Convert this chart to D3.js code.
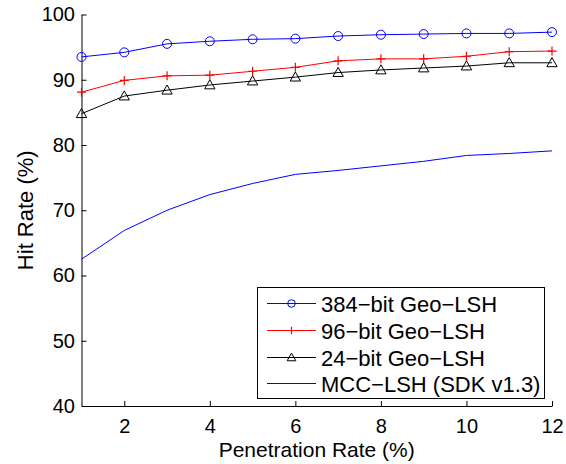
<!DOCTYPE html>
<html>
<head>
<meta charset="utf-8">
<script src="https://cdn.jsdelivr.net/npm/d3@7"></script>
<style>
  body { margin: 0; background: #fff; }
  svg text { font-family: "Liberation Sans", Arial, sans-serif; }
</style>
</head>
<body>
<div id="chart"></div>
<script>
// penetration rate (%)
var rates = [1, 2, 3, 4, 5, 6, 7, 8, 9, 10, 11, 12];
// hit rate (%) per method
var geo384 = [93.5, 94.2, 95.5, 95.9, 96.2, 96.3, 96.7, 96.9, 97.0, 97.1, 97.1, 97.3];
var geo96  = [88.1, 89.9, 90.6, 90.7, 91.3, 91.9, 92.9, 93.2, 93.2, 93.6, 94.3, 94.4];
var geo24  = [84.8, 87.5, 88.4, 89.2, 89.8, 90.4, 91.1, 91.5, 91.8, 92.1, 92.6, 92.6];
var mcc    = [62.5, 66.9, 70.0, 72.4, 74.1, 75.5, 76.1, 76.8, 77.5, 78.4, 78.7, 79.1];
var seriesNames = ["384\u2212bit Geo\u2212LSH", "96\u2212bit Geo\u2212LSH", "24\u2212bit Geo\u2212LSH", "MCC\u2212LSH (SDK v1.3)"];
var xTicks = [2, 4, 6, 8, 10, 12];
var yTicks = [40, 50, 60, 70, 80, 90, 100];

var w = 566, h = 464;
var padL = 81.5, padR = 552, padT = 14.5, padB = 406;

var svg = d3.select("#chart").append("svg")
  .attr("width", w)
  .attr("height", h);

var x = d3.scaleLinear().domain([1, 12]).range([padL, padR]);
var y = d3.scaleLinear().domain([40, 100]).range([padB, padT]);

// axes, ticks pointing inward
var xAxis = svg.append("g")
  .attr("transform", "translate(0," + padB + ")")
  .call(d3.axisBottom(x).tickValues(xTicks).tickSizeInner(-5).tickSizeOuter(0).tickPadding(13));
var yAxis = svg.append("g")
  .attr("transform", "translate(" + padL + ",0)")
  .call(d3.axisLeft(y).tickValues(yTicks).tickSizeInner(-5).tickSizeOuter(0).tickPadding(6.5));

[xAxis, yAxis].forEach(function(g) {
  g.select(".domain").attr("stroke", "#000").attr("stroke-width", 1);
  g.selectAll(".tick line").attr("stroke", "#000");
  g.selectAll(".tick text").attr("font-size", "20px").attr("fill", "#000");
});

svg.append("text")
  .attr("x", (padL + padR) / 2)
  .attr("y", 457)
  .attr("text-anchor", "middle")
  .attr("font-size", "21px")
  .text("Penetration Rate (%)");

svg.append("text")
  .attr("transform", "translate(33," + ((padT + padB) / 2) + ") rotate(-90)")
  .attr("text-anchor", "middle")
  .attr("font-size", "22px")
  .text("Hit Rate (%)");

var series = [
  { name: seriesNames[0], values: geo384, color: "#0000ff", marker: "circle" },
  { name: seriesNames[1], values: geo96, color: "#ff0000", marker: "plus" },
  { name: seriesNames[2], values: geo24, color: "#000000", marker: "triangle" },
  { name: seriesNames[3], values: mcc, color: "#0000ff", marker: "none" }
];

var lineGen = d3.line()
  .x(function(d, i) { return x(rates[i]); })
  .y(function(d) { return y(d); });

function drawMarker(g, type, cx, cy, size, color) {
  if (type === "circle") {
    g.append("circle").attr("cx", cx).attr("cy", cy).attr("r", size)
      .attr("fill", "none").attr("stroke", color).attr("stroke-width", 1);
  } else if (type === "plus") {
    g.append("path")
      .attr("d", "M" + (cx - size) + "," + cy + "H" + (cx + size) + "M" + cx + "," + (cy - size) + "V" + (cy + size))
      .attr("stroke", color).attr("stroke-width", 1.2).attr("fill", "none");
  } else if (type === "triangle") {
    var s = size * 1.15;
    g.append("path")
      .attr("d", "M" + cx + "," + (cy - s) + "L" + (cx + s) + "," + (cy + s * 0.75) + "L" + (cx - s) + "," + (cy + s * 0.75) + "Z")
      .attr("stroke", color).attr("stroke-width", 1).attr("fill", "none");
  }
}

series.forEach(function(s) {
  var g = svg.append("g");
  g.append("path")
    .datum(s.values)
    .attr("d", lineGen)
    .attr("fill", "none")
    .attr("stroke", s.color)
    .attr("stroke-width", 1);
  s.values.forEach(function(v, i) {
    drawMarker(g, s.marker, x(rates[i]), y(v), 4.5, s.color);
  });
});

// legend
var lx = 257.5, ly = 287.5, lw = 287, lh = 111;
var legend = svg.append("g");
legend.append("rect")
  .attr("x", lx).attr("y", ly).attr("width", lw).attr("height", lh)
  .attr("fill", "#fff").attr("stroke", "#000").attr("stroke-width", 1);
var rowY = [303.5, 330.5, 357.5, 383.5];
series.forEach(function(s, i) {
  var yy = rowY[i];
  legend.append("line")
    .attr("x1", 267).attr("x2", 316).attr("y1", yy).attr("y2", yy)
    .attr("stroke", s.color).attr("stroke-width", 1);
  drawMarker(legend, s.marker, 291.5, yy, 3.8, s.color);
  legend.append("text")
    .attr("x", 321)
    .attr("y", yy + 8)
    .attr("font-size", "22px")
    .text(s.name);
});
</script>
</body>
</html>
